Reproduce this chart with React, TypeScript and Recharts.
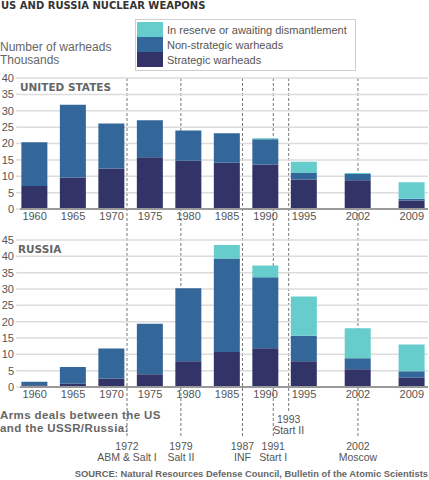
import {
  Bar,
  BarChart,
  CartesianGrid,
  ComposedChart,
  Legend,
  ReferenceLine,
  Scatter,
  XAxis,
  YAxis,
} from "recharts";

const YEARS = [1960, 1965, 1970, 1975, 1980, 1985, 1990, 1995, 2002, 2009];

// thousands of warheads
const US_STRATEGIC = [7.0, 9.6, 12.4, 15.8, 14.7, 14.1, 13.6, 9.0, 8.8, 2.6];
const US_NON_STRATEGIC = [13.4, 22.2, 13.7, 11.3, 9.3, 9.0, 7.7, 2.0, 1.9, 0.5];
const US_RESERVE = [0, 0, 0, 0, 0, 0, 0.3, 3.4, 0.3, 5.1];

const RU_STRATEGIC = [0.5, 1.0, 2.6, 3.9, 7.9, 10.7, 11.9, 7.9, 5.4, 2.8];
const RU_NON_STRATEGIC = [1.1, 5.1, 9.2, 15.5, 22.3, 28.6, 21.7, 7.8, 3.4, 2.0];
const RU_RESERVE = [0, 0, 0, 0, 0, 4.2, 3.6, 12.0, 9.2, 8.2];

const US_TICKS = [0, 5, 10, 15, 20, 25, 30, 35, 40];
const RU_TICKS = [0, 5, 10, 15, 20, 25, 30, 35, 40, 45];

const TREATY_YEARS = [1972, 1979, 1987, 1991, 1993, 2002];
const TREATY_NAMES = ["ABM & Salt I", "Salt II", "INF", "Start I", "Start II", "Moscow"];

const SERIES = [
  { key: "reserve", name: "In reserve or awaiting dismantlement", color: "#66CCCC" },
  { key: "nonStrategic", name: "Non-strategic warheads", color: "#336699" },
  { key: "strategic", name: "Strategic warheads", color: "#323366" },
];

const X_DOMAIN: [number, number] = [1958.1, 2011.1];
const FONT = "'Liberation Sans', Arial, sans-serif";
const HEAD_FONT = "'DejaVu Sans', Verdana, sans-serif";
const GREY = "#555";

function buildRows(s: number[], n: number[], r: number[]) {
  return YEARS.map((year, i) => ({
    year,
    strategic: s[i],
    nonStrategic: n[i],
    reserve: r[i],
  }));
}

const usData = buildRows(US_STRATEGIC, US_NON_STRATEGIC, US_RESERVE);
const ruData = buildRows(RU_STRATEGIC, RU_NON_STRATEGIC, RU_RESERVE);

function LegendBox() {
  return (
    <div
      style={{
        border: "1px solid #cfcfcf",
        background: "#fff",
        padding: "2px 8px 3px 1px",
        fontFamily: FONT,
        fontSize: 11,
        color: GREY,
      }}
    >
      {SERIES.map((s) => (
        <div key={s.key} style={{ display: "flex", alignItems: "center", height: 15 }}>
          <div style={{ width: 26, height: 15, background: s.color, marginRight: 4 }} />
          <span>{s.name}</span>
        </div>
      ))}
    </div>
  );
}

type PanelProps = {
  data: ReturnType<typeof buildRows>;
  ticks: number[];
  height: number;
  marginTop: number;
  withLegend?: boolean;
};

function Panel({ data, ticks, height, marginTop, withLegend }: PanelProps) {
  return (
    <BarChart
      width={429}
      height={height}
      data={data}
      margin={{ top: marginTop, right: 1, left: 0, bottom: 0 }}
    >
      <CartesianGrid vertical={false} stroke="#dcdcdc" strokeWidth={1.5} />
      <XAxis
        type="number"
        dataKey="year"
        domain={X_DOMAIN}
        ticks={YEARS}
        allowDataOverflow
        height={20}
        tickLine={false}
        tickSize={0}
        tickMargin={3}
        axisLine={{ stroke: "#999", strokeWidth: 2 }}
        tick={{ fontSize: 11, fill: GREY, fontFamily: FONT }}
      />
      <YAxis
        type="number"
        domain={[0, ticks[ticks.length - 1]]}
        ticks={ticks}
        width={20}
        axisLine={false}
        tickLine={{ stroke: "#dcdcdc", strokeWidth: 1.5 }}
        tickSize={4}
        tickMargin={2}
        interval={0}
        tick={{ fontSize: 11, fill: GREY, fontFamily: FONT }}
      />
      {withLegend && (
        <Legend
          layout="horizontal"
          verticalAlign="middle"
          align="center"
          wrapperStyle={{ top: 19, left: 135, width: "auto" }}
          content={() => <LegendBox />}
        />
      )}
      {[...SERIES].reverse().map((s) => (
        <Bar
          key={s.key}
          dataKey={s.key}
          name={s.name}
          stackId="w"
          fill={s.color}
          barSize={26}
          isAnimationActive={false}
        />
      ))}
    </BarChart>
  );
}

// one transparent chart behind both panels, so the treaty lines share the year scale
const treatyRows = TREATY_YEARS.map((year, i) => ({
  year,
  name: TREATY_NAMES[i],
  y: year === 1993 ? 419 : 446,
}));

function TreatyLabel(props: any) {
  const { cx, cy, payload } = props;
  return (
    <g fontFamily={FONT} fontSize={10.5} fill={GREY} textAnchor="middle">
      <text x={cx} y={cy} dy="0.35em">
        {payload.year}
      </text>
      <text x={cx} y={cy + 11} dy="0.35em">
        {payload.name}
      </text>
    </g>
  );
}

function TreatyLayer() {
  return (
    <ComposedChart width={429} height={480} margin={{ top: 0, right: 1, left: 20, bottom: 0 }}>
      <XAxis type="number" dataKey="year" domain={X_DOMAIN} allowDataOverflow hide />
      <YAxis type="number" dataKey="y" domain={[0, 480]} reversed hide />
      {treatyRows.map((t) => (
        <ReferenceLine
          key={t.year}
          segment={[
            { x: t.year, y: 78 },
            { x: t.year, y: t.year === 1993 ? 412 : 437 },
          ]}
          stroke="#777"
          strokeDasharray="3 2"
          strokeWidth={1}
        />
      ))}
      <Scatter data={treatyRows} dataKey="y" shape={TreatyLabel} isAnimationActive={false} />
    </ComposedChart>
  );
}

export default function App() {
  const abs = { position: "absolute" as const, left: 0 };
  return (
    <div
      style={{
        position: "absolute",
        left: 0,
        top: 0,
        width: 429,
        height: 480,
        background: "#fff",
        fontFamily: FONT,
        color: GREY,
        overflow: "hidden",
      }}
    >
      <div style={{ ...abs, top: 0 }}>
        <TreatyLayer />
      </div>
      <div style={{ ...abs, top: 0 }}>
        <Panel data={usData} ticks={US_TICKS} height={229} marginTop={78} withLegend />
      </div>
      <div style={{ ...abs, top: 220 }}>
        <Panel data={ruData} ticks={RU_TICKS} height={187} marginTop={20} />
      </div>

      <div
        style={{
          ...abs,
          top: 0,
          left: 1,
          fontFamily: HEAD_FONT,
          fontWeight: "bold",
          fontSize: 10,
          color: "#333",
        }}
      >
        US AND RUSSIA NUCLEAR WEAPONS
      </div>
      <div style={{ ...abs, top: 41, fontSize: 12, lineHeight: "13px", color: "#666" }}>
        Number of warheads
        <br />
        Thousands
      </div>
      <div
        style={{
          ...abs,
          top: 81,
          left: 20,
          fontFamily: HEAD_FONT,
          fontWeight: "bold",
          fontSize: 10.5,
          color: "#666",
        }}
      >
        UNITED STATES
      </div>
      <div
        style={{
          ...abs,
          top: 243,
          left: 18,
          fontFamily: HEAD_FONT,
          fontWeight: "bold",
          fontSize: 10.5,
          color: "#666",
        }}
      >
        RUSSIA
      </div>
      <div
        style={{
          ...abs,
          top: 409,
          fontSize: 11.5,
          fontWeight: "bold",
          lineHeight: "12.5px",
          letterSpacing: 0.4,
          color: "#666",
        }}
      >
        Arms deals between the US
        <br />
        and the USSR/Russia:
      </div>
      <div
        style={{
          position: "absolute",
          right: 1,
          top: 468,
          fontSize: 9.4,
          fontWeight: "bold",
          whiteSpace: "nowrap",
          color: "#666",
        }}
      >
        SOURCE: Natural Resources Defense Council, Bulletin of the Atomic Scientists
      </div>
    </div>
  );
}
